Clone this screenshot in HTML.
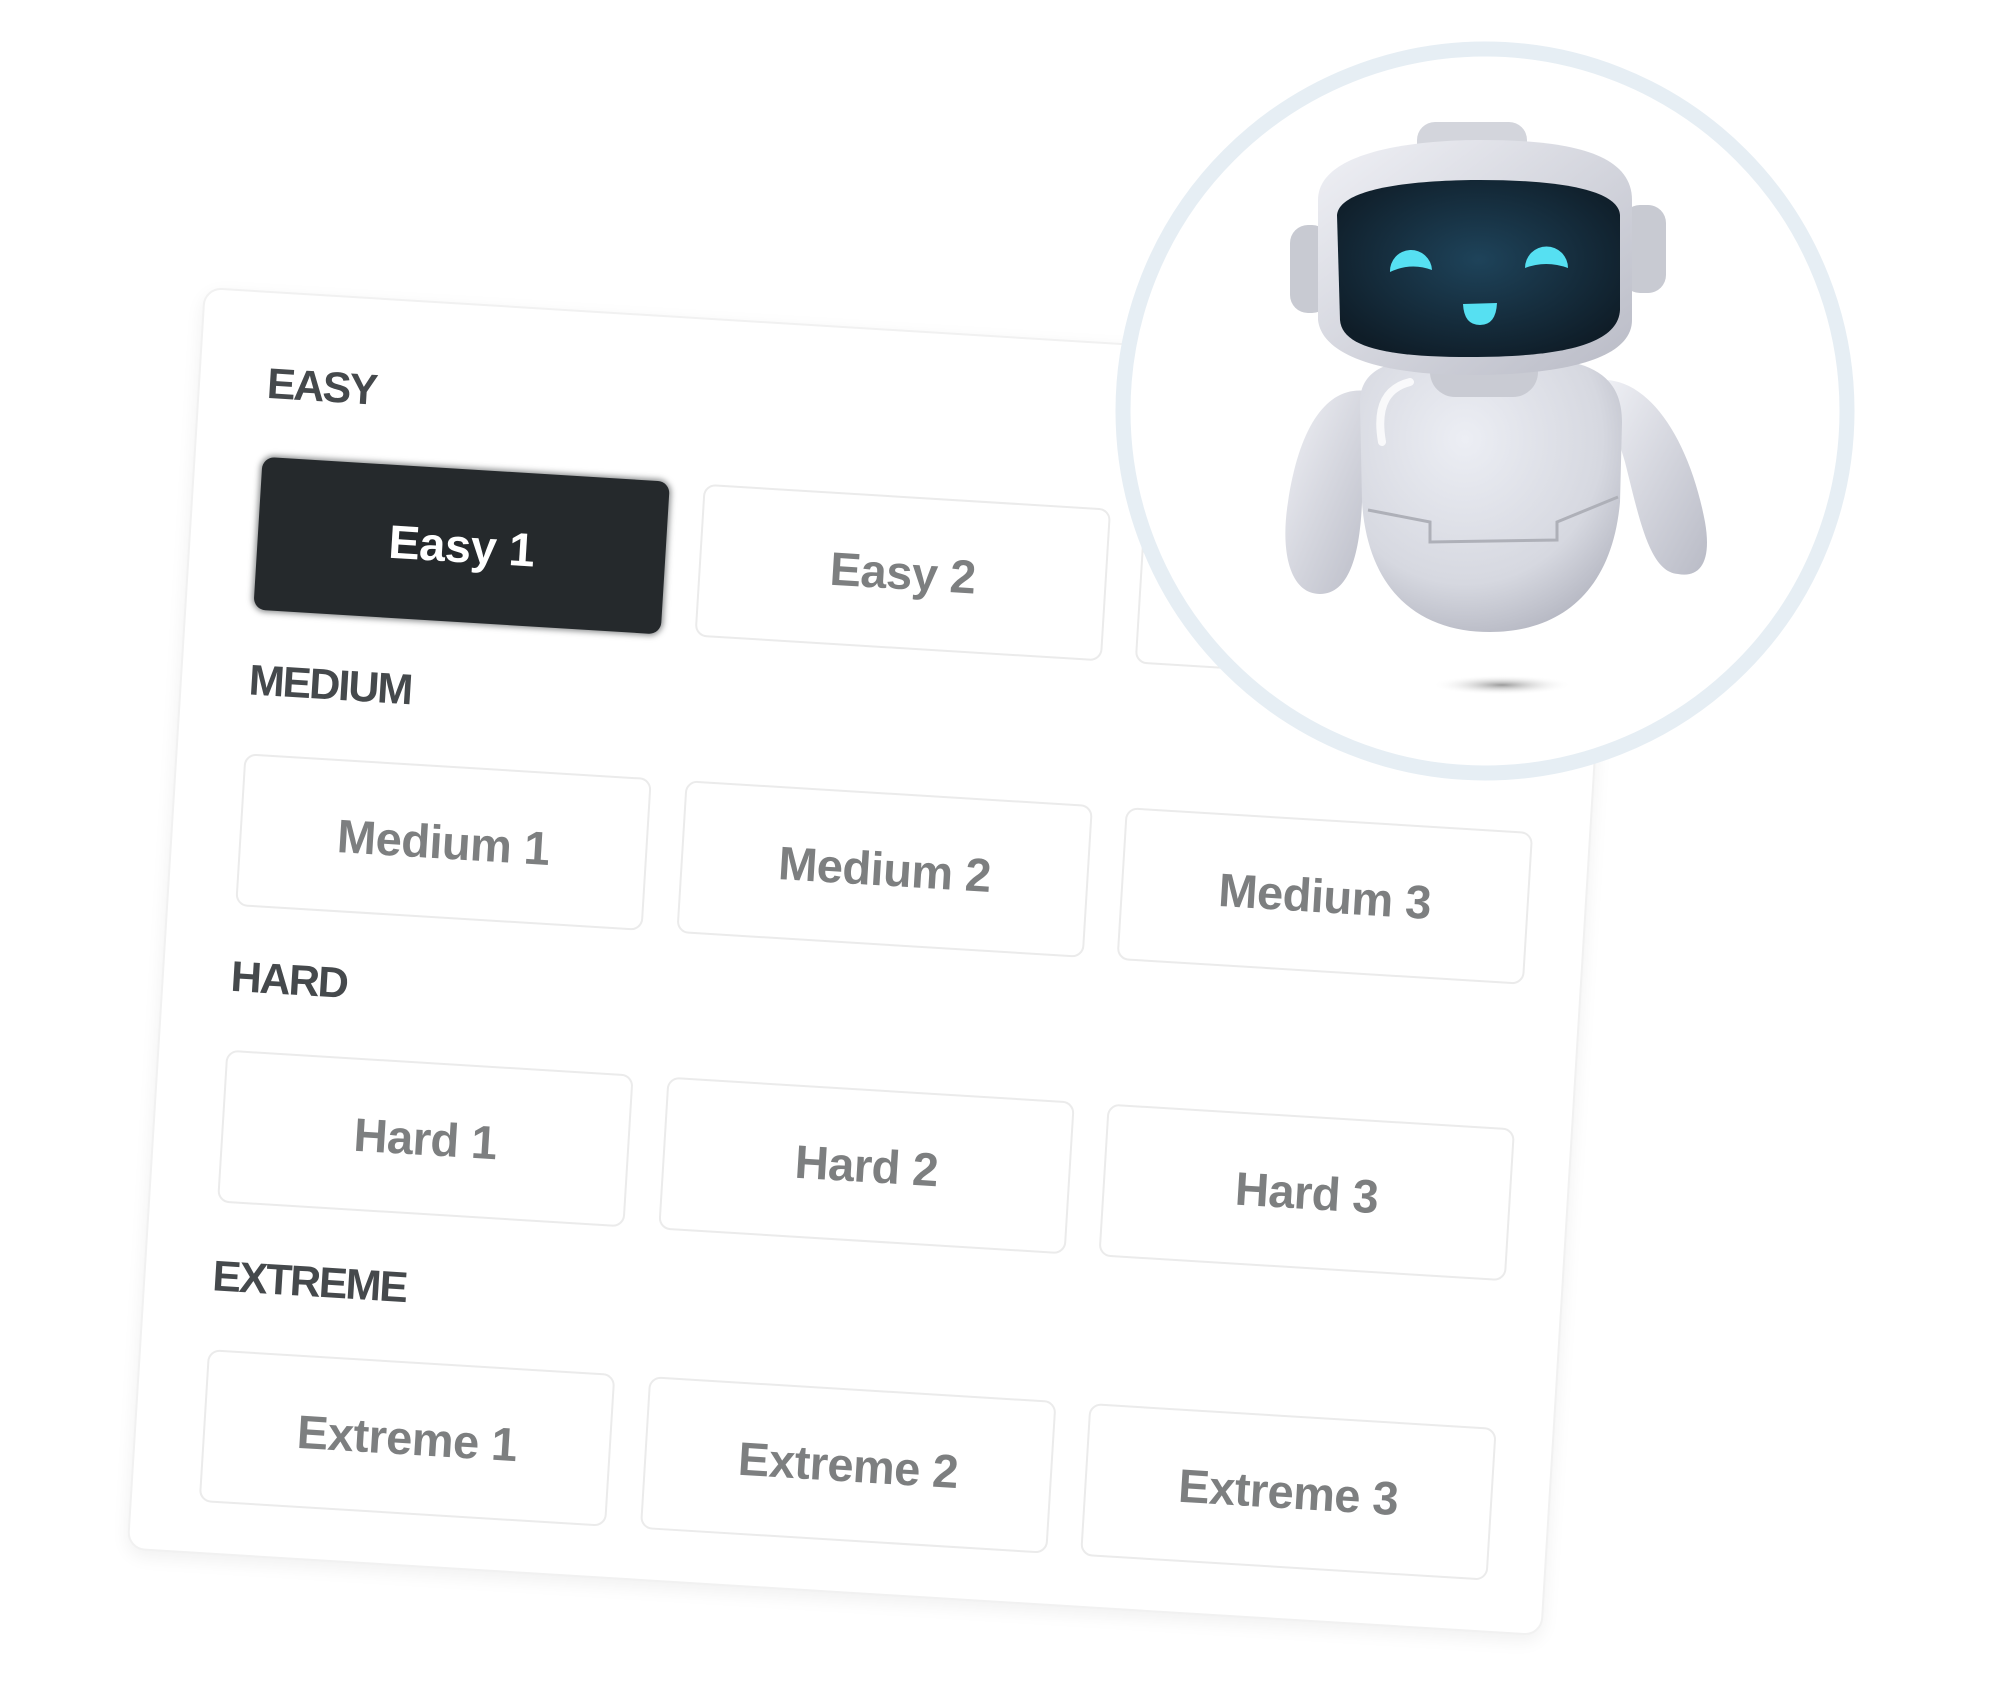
<!DOCTYPE html>
<html><head><meta charset="utf-8"><style>
html,body{margin:0;padding:0;background:#fff;width:2000px;height:1690px;overflow:hidden;position:relative;font-family:"Liberation Sans",sans-serif}
#card{position:absolute;left:164px;top:329px;width:1418px;height:1265px;background:#fff;border-radius:18px;border:2px solid #f1f1f1;box-sizing:border-box;box-shadow:0 6px 18px rgba(0,0,0,0.06);transform:rotate(3.5deg);transform-origin:50% 50%}
.lab{position:absolute;left:67px;font-weight:bold;font-size:43px;color:#45494c;letter-spacing:-2px;line-height:50px;height:50px}
.btn{position:absolute;width:408px;height:153px;border:2px solid #ebebeb;border-radius:12px;box-sizing:border-box;display:flex;align-items:center;justify-content:center;font-size:47px;font-weight:bold;color:#7d7f80;letter-spacing:-0.5px}
.dark{background:#25292c;border:none;color:#fff;box-shadow:0 0 6px 2px rgba(37,41,44,0.5)}
svg{position:absolute;left:0;top:0}
</style></head><body>
<div id="card">
<div class="lab" style="top:66px">EASY</div>
<div class="btn dark" style="left:67px;top:164px">Easy 1</div>
<div class="btn" style="left:509px;top:164px">Easy 2</div>
<div class="btn" style="left:950px;top:164px">Easy 3</div>
<div class="lab" style="top:363px">MEDIUM</div>
<div class="btn" style="left:67px;top:461px">Medium 1</div>
<div class="btn" style="left:509px;top:461px">Medium 2</div>
<div class="btn" style="left:950px;top:461px">Medium 3</div>
<div class="lab" style="top:660px">HARD</div>
<div class="btn" style="left:67px;top:758px">Hard 1</div>
<div class="btn" style="left:509px;top:758px">Hard 2</div>
<div class="btn" style="left:950px;top:758px">Hard 3</div>
<div class="lab" style="top:960px">EXTREME</div>
<div class="btn" style="left:67px;top:1058px">Extreme 1</div>
<div class="btn" style="left:509px;top:1058px">Extreme 2</div>
<div class="btn" style="left:950px;top:1058px">Extreme 3</div>
</div>
<svg width="2000" height="1690" viewBox="0 0 2000 1690">
<defs>
<radialGradient id="scr" cx="50%" cy="45%" r="60%"><stop offset="0" stop-color="#1e435a"/><stop offset="1" stop-color="#0f1d28"/></radialGradient>
<linearGradient id="wh" x1="0" y1="0" x2="1" y2="1"><stop offset="0" stop-color="#f0f1f6"/><stop offset="1" stop-color="#b9bbc6"/></linearGradient>
<radialGradient id="bd" cx="40%" cy="30%" r="75%"><stop offset="0" stop-color="#eceef4"/><stop offset="0.7" stop-color="#d6d8e0"/><stop offset="1" stop-color="#b5b7c2"/></radialGradient>
<radialGradient id="sh" cx="50%" cy="50%" r="50%"><stop offset="0" stop-color="#9a9a9a"/><stop offset="1" stop-color="#fff" stop-opacity="0"/></radialGradient>
</defs>
<circle cx="1485" cy="411" r="362" fill="#fff" stroke="#e6eef4" stroke-width="15"/>
<ellipse cx="1502" cy="685" rx="70" ry="10" fill="url(#sh)"/>
<g transform="translate(0,-18)">
<path d="M1372 410 C1330 400 1300 440 1288 520 C1280 570 1290 612 1320 612 C1350 612 1360 570 1362 520 Z" fill="url(#wh)"/>
<path d="M1600 398 C1650 395 1690 460 1705 540 C1712 580 1700 596 1678 592 C1650 590 1640 540 1625 480 Z" fill="url(#wh)"/>
<path d="M1360 420 C1360 370 1430 375 1490 375 C1560 375 1622 375 1622 440 L1620 520 C1612 610 1560 650 1490 650 C1420 650 1368 610 1362 520 Z" fill="url(#bd)"/>
<path d="M1368 528 L1430 540 L1430 560 L1557 558 L1557 540 L1618 515" fill="none" stroke="#aeb0b8" stroke-width="3"/>
<path d="M1382 460 C1375 420 1390 405 1410 400" fill="none" stroke="#fff" stroke-width="8" stroke-linecap="round" opacity="0.8"/>
<rect x="1430" y="360" width="108" height="55" rx="25" fill="#c9cbd3"/>
</g>
<rect x="1290" y="225" width="40" height="88" rx="18" fill="#c8cad2"/>
<rect x="1622" y="205" width="44" height="88" rx="18" fill="#c8cad2"/>
<rect x="1417" y="122" width="110" height="40" rx="18" fill="#d3d5dc"/>
<path d="M1318 200 C1318 150 1420 140 1480 140 C1560 140 1632 150 1632 200 L1632 320 C1632 360 1560 375 1470 375 C1380 375 1322 355 1318 320 Z" fill="url(#wh)"/>
<path d="M1337 215 C1340 185 1430 180 1480 180 C1560 180 1618 190 1620 215 L1620 310 C1618 345 1560 357 1470 357 C1390 357 1342 348 1340 320 Z" fill="url(#scr)"/>
<path d="M1390 272 A20 20 0 0 1 1432 270 Q1411 262 1390 272Z" fill="#56e0f2"/>
<path d="M1525 268 A21 21 0 0 1 1568 268 Q1546 260 1525 268Z" fill="#56e0f2"/>
<path d="M1463 304 L1497 303 Q1496 325 1480 325 Q1464 325 1463 304Z" fill="#56e0f2"/>
</svg>
</body></html>
